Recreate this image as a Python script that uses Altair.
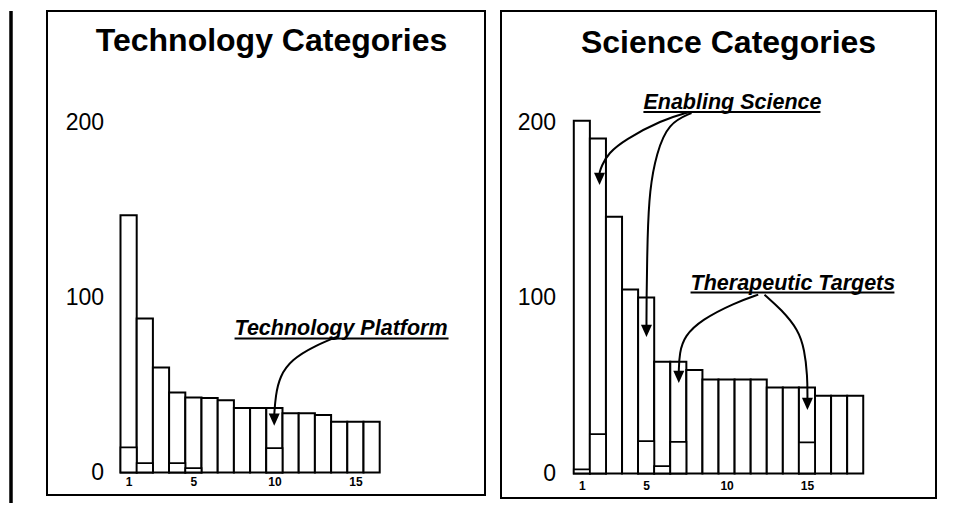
import altair as alt
import pandas as pd

# ---------------- data ----------------
tech_rank = list(range(1, 17))
tech_total = [147, 88, 60, 45.7, 42.9, 42.5, 41.3, 36.8, 36.8, 36.8, 33.9, 33.9, 32.8, 29, 29, 29]
tech_inner_rank = [1, 2, 4, 5, 10]
tech_inner_val = [14.3, 5.3, 5.3, 2.5, 13.9]

sci_rank = list(range(1, 19))
sci_total = [201, 190.9, 146.3, 104.8, 100.3, 63.6, 63.6, 58.9, 53.6, 53.6, 53.6, 53.6,
             49, 49, 49, 44.3, 44.3, 44.3]
sci_inner_rank = [1, 2, 5, 6, 7, 15]
sci_inner_val = [2.3, 22.4, 18.4, 4.2, 18.0, 17.7]

y_ticks = [0, 100, 200]
x_ticks = [1, 5, 10, 15]

# annotation labels (data units)
tech_labels = ["Technology Platform"]
tech_label_x = [7.54]
tech_label_y = [78.6]
tech_uline_x = [7.54]
tech_uline_x2 = [20.75]
tech_uline_y = [76.6]
tech_arrow_id = [0, 0, 0, 0, 0, 0]
tech_arrow_x = [13.94, 12.48, 11.06, 10.33, 10.07, 9.99]
tech_arrow_y = [77.8, 72.3, 64.5, 55.0, 43.7, 33.0]
tech_head_x = [9.99]
tech_head_y = [30.2]

sci_labels = ["Enabling Science", "Therapeutic Targets"]
sci_label_x = [4.83, 7.76]
sci_label_y = [207.7, 104.8]
sci_uline_x = [4.83, 7.76]
sci_uline_x2 = [15.84, 20.44]
sci_uline_y = [206.0, 103.1]
sci_arrow_id = [0] * 6 + [1] * 7 + [2] * 6 + [3] * 6
sci_arrow_x = [7.70, 5.95, 3.65, 2.66, 2.22, 2.10,
               7.82, 6.39, 5.64, 5.21, 5.08, 5.02, 5.02,
               11.97, 10.50, 8.44, 7.38, 7.07, 7.03,
               12.36, 13.42, 14.46, 14.85, 15.03, 15.03]
sci_arrow_y = [206.0, 201.4, 190.0, 182.6, 175.2, 171.2,
               205.4, 199.7, 182.6, 161.5, 135.3, 97.1, 84.6,
               101.9, 97.2, 87.6, 78.3, 68.7, 58.4,
               101.9, 93.3, 81.9, 70.5, 55.6, 43.0]
sci_head_x = [2.10, 5.02, 7.03, 15.03]
sci_head_y = [167.8, 81.2, 55.0, 39.6]

FONT = "Liberation Sans"
HEAD = "M-0.9,-1 L0.9,-1 L0,1 Z"


def panel(title, title_px, ranks, totals, inner_rank, inner_val,
          xdom, ydom, W, H, yoff, xoff,
          labels, lx, ly, ux, ux2, uy, aid, ax, ay, hx, hy, extra=None):
    xs = alt.Scale(domain=xdom, nice=False, zero=False)
    ys = alt.Scale(domain=ydom, nice=False, zero=False)
    xaxis = alt.Axis(values=x_ticks, orient="bottom", offset=xoff, ticks=False, tickSize=0,
                     domain=False, grid=False, labelPadding=0, labelFont=FONT,
                     labelFontSize=12, labelFontWeight="bold", labelColor="black",
                     format="d", title=None)
    yaxis = alt.Axis(values=y_ticks, orient="left", offset=yoff, ticks=False, tickSize=0,
                     domain=False, grid=False, labelPadding=0, labelFont=FONT,
                     labelFontSize=23, labelColor="black", format="d", title=None)

    bars_df = pd.DataFrame({"rank": ranks, "total": totals})
    bars_df["lo"] = bars_df["rank"] - 0.5
    bars_df["hi"] = bars_df["rank"] + 0.5
    bars_df["base"] = 0.0
    inner_df = pd.DataFrame({"rank": inner_rank, "val": inner_val})
    inner_df["lo"] = inner_df["rank"] - 0.5
    inner_df["hi"] = inner_df["rank"] + 0.5
    inner_df["base"] = 0.0

    bars = alt.Chart(bars_df).mark_rect(fill="white", stroke="black", strokeWidth=2).encode(
        x=alt.X("lo:Q", scale=xs, axis=xaxis, title=None),
        x2="hi:Q",
        y=alt.Y("base:Q", scale=ys, axis=yaxis, title=None),
        y2="total:Q",
    )
    inner = alt.Chart(inner_df).mark_rect(fill="white", stroke="black", strokeWidth=1.8).encode(
        x=alt.X("lo:Q", scale=xs, title=None), x2="hi:Q",
        y=alt.Y("base:Q", scale=ys, title=None), y2="val:Q",
    )
    ttl = alt.Chart(pd.DataFrame({"t": [title]})).mark_text(
        font=FONT, fontSize=32, fontWeight="bold", color="black",
        align="center", baseline="alphabetic").encode(
        text="t:N", x=alt.value(title_px[0]), y=alt.value(title_px[1]))

    lab_df = pd.DataFrame({"t": labels, "lx": lx, "ly": ly, "ux": ux, "ux2": ux2, "uy": uy})
    lab = alt.Chart(lab_df).mark_text(
        font=FONT, fontSize=21.5, fontWeight="bold", fontStyle="italic", color="black",
        align="left", baseline="alphabetic").encode(
        text="t:N", x=alt.X("lx:Q", scale=xs, title=None), y=alt.Y("ly:Q", scale=ys, title=None))
    uline = alt.Chart(lab_df).mark_rule(color="black", strokeWidth=2).encode(
        x=alt.X("ux:Q", scale=xs, title=None), x2="ux2:Q",
        y=alt.Y("uy:Q", scale=ys, title=None))

    arr_df = pd.DataFrame({"id": aid, "ax": ax, "ay": ay})
    arr_df["i"] = range(len(arr_df))
    arrows = alt.Chart(arr_df).mark_line(interpolate="basis", color="black", strokeWidth=2).encode(
        x=alt.X("ax:Q", scale=xs, title=None), y=alt.Y("ay:Q", scale=ys, title=None),
        detail="id:N", order="i:Q")
    head_df = pd.DataFrame({"hx": hx, "hy": hy})
    heads = alt.Chart(head_df).mark_point(shape=HEAD, filled=True, size=150, color="black",
                                          opacity=1, strokeWidth=0).encode(
        x=alt.X("hx:Q", scale=xs, title=None), y=alt.Y("hy:Q", scale=ys, title=None))

    layers = [bars, inner, ttl, lab, uline, arrows, heads]
    if extra is not None:
        layers.append(extra)
    return alt.layer(*layers).properties(width=W, height=H)


edge = alt.Chart(pd.DataFrame({"k": [0]})).mark_rule(color="black", strokeWidth=3.5).encode(
    x=alt.value(-36), y=alt.value(0), y2=alt.value(492))

left = panel("Technology Categories", (224.5, 40), tech_rank, tech_total,
             tech_inner_rank, tech_inner_val,
             [-4.037, 23.0], [-12.86, 263.7], 438, 484, -56.5, -19,
             tech_labels, tech_label_x, tech_label_y, tech_uline_x, tech_uline_x2, tech_uline_y,
             tech_arrow_id, tech_arrow_x, tech_arrow_y, tech_head_x, tech_head_y, extra=edge)

right = panel("Science Categories", (227.5, 42), sci_rank, sci_total,
              sci_inner_rank, sci_inner_val,
              [-4.027, 23.025], [-13.96, 263.5], 435, 487, -54.5, -18,
              sci_labels, sci_label_x, sci_label_y, sci_uline_x, sci_uline_x2, sci_uline_y,
              sci_arrow_id, sci_arrow_x, sci_arrow_y, sci_head_x, sci_head_y)

chart = alt.hconcat(left, right, spacing=14).properties(
    padding={"left": 0, "top": 0, "right": 4, "bottom": 4},
    background="white",
).configure_view(stroke="black", strokeWidth=2)

chart.save("out.html", embed_options={"renderer": "svg", "actions": False})
